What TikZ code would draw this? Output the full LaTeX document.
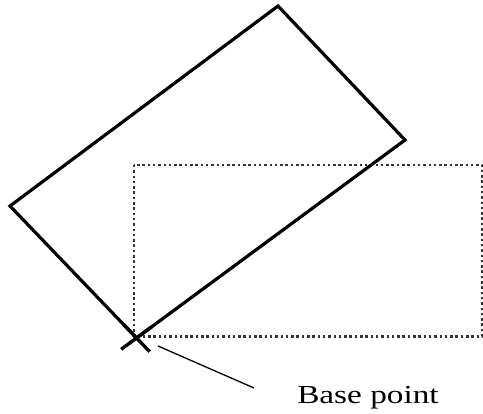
\documentclass[tikz,border=0pt]{standalone}
\usepackage{fontspec}
\setmainfont{Liberation Serif}
\usepackage{tikz}
\usetikzlibrary{calc,positioning}

\tikzset{
  solidbox/.style={line width=3.2pt, line join=miter},
  dottedbox/.style={line width=2.2pt, black!80, dash pattern=on 2.5pt off 2.8pt},
  leader/.style={line width=1.3pt},
  basemark/.style={line width=3.4pt}
}

\begin{document}
\begin{tikzpicture}[x=1pt, y=-1pt]
\useasboundingbox (0,0) rectangle (483,414);

% corners of the turned box
\coordinate (base) at (136.5,338);
\coordinate (left) at (10,206);
\coordinate (top) at (278,6);
\coordinate (right) at (405,140);

\draw[dottedbox] (134,165) rectangle (482,336.5);
\draw[solidbox] (base) -- (left) -- (top) -- (right) -- cycle;

% cross at the base point
\draw[basemark] ($(base)!-19pt!(left)$) -- ($(base)!19pt!(left)$);
\draw[basemark] ($(base)!-19pt!(right)$) -- ($(base)!19pt!(right)$);

\node[anchor=base west, inner sep=0pt, xscale=1.28, transform shape,
      font=\fontsize{26}{30}\selectfont] (label) at (297,403.5) {Base point};

\coordinate (leadA) at (158,346);
\coordinate (leadB) at (254,388);
\draw[leader] (leadA) -- (leadB);

\end{tikzpicture}
\end{document}
